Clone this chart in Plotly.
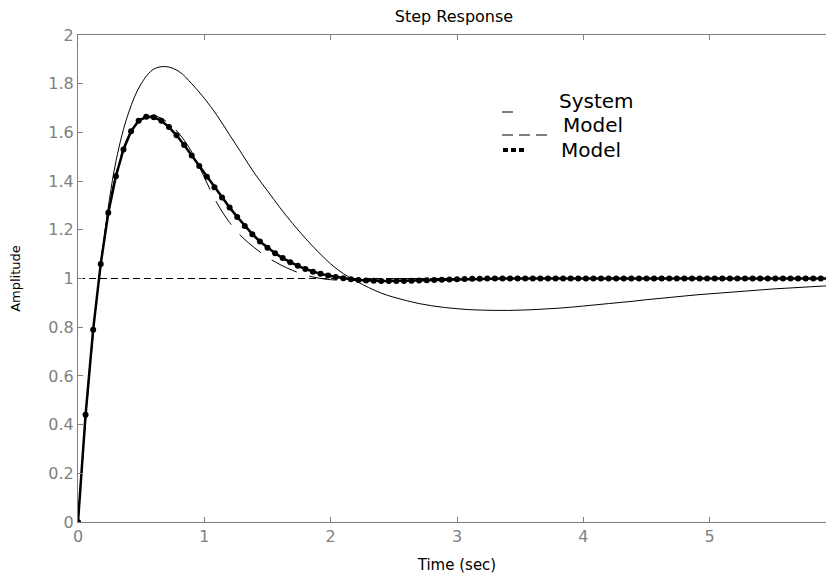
import plotly.graph_objects as go

# ---------------- data ----------------
t_sys = [0.0, 0.1, 0.2, 0.3, 0.4, 0.5, 0.6, 0.7, 0.8, 0.9,
         1.0, 1.1, 1.2, 1.3, 1.4, 1.5, 1.6, 1.7, 1.8, 1.9,
         2.0, 2.1, 2.2, 2.3, 2.4, 2.5, 2.6, 2.7, 2.8, 2.9,
         3.0, 3.1, 3.2, 3.3, 3.4, 3.5, 3.6, 3.7, 3.8, 3.9,
         4.0, 4.1, 4.2, 4.3, 4.4, 4.5, 4.6, 4.7, 4.8, 4.9,
         5.0, 5.1, 5.2, 5.3, 5.4, 5.5, 5.6, 5.7, 5.8, 5.9, 6.0]

system = [0.0, 0.68, 1.14, 1.48, 1.68, 1.80, 1.86, 1.87, 1.85, 1.80,
          1.74, 1.67, 1.59, 1.51, 1.43, 1.36, 1.29, 1.225, 1.165, 1.11,
          1.06, 1.02, 0.99, 0.963, 0.94, 0.923, 0.909, 0.897, 0.888, 0.881,
          0.876, 0.872, 0.87, 0.869, 0.869, 0.87, 0.872, 0.875, 0.878, 0.882,
          0.887, 0.892, 0.897, 0.902, 0.907, 0.913, 0.918, 0.923, 0.928, 0.933,
          0.937, 0.941, 0.945, 0.949, 0.953, 0.957, 0.960, 0.963, 0.966, 0.969, 0.972]

model_dashed = [0.0, 0.66, 1.14, 1.43, 1.585, 1.65, 1.668, 1.645, 1.595, 1.52,
                1.415, 1.31, 1.23, 1.17, 1.125, 1.087, 1.057, 1.033, 1.014, 1.002,
                0.995, 0.993, 0.994, 0.996, 0.998, 0.999, 1.0, 1.0, 1.0, 1.0,
                1.0, 1.0, 1.0, 1.0, 1.0, 1.0, 1.0, 1.0, 1.0, 1.0,
                1.0, 1.0, 1.0, 1.0, 1.0, 1.0, 1.0, 1.0, 1.0, 1.0,
                1.0, 1.0, 1.0, 1.0, 1.0, 1.0, 1.0, 1.0, 1.0, 1.0, 1.0]

t_dot = [0.00, 0.06, 0.12, 0.18, 0.24, 0.30, 0.36, 0.42, 0.48, 0.54,
         0.60, 0.66, 0.72, 0.78, 0.84, 0.90, 0.96, 1.02, 1.08, 1.14,
         1.20, 1.26, 1.32, 1.38, 1.44, 1.50, 1.56, 1.62, 1.68, 1.74,
         1.80, 1.86, 1.92, 1.98, 2.04, 2.10, 2.16, 2.22, 2.28, 2.34,
         2.40, 2.46, 2.52, 2.58, 2.64, 2.70, 2.76, 2.82, 2.88, 2.94,
         3.00, 3.06, 3.12, 3.18, 3.24, 3.30, 3.36, 3.42, 3.48, 3.54,
         3.60, 3.66, 3.72, 3.78, 3.84, 3.90, 3.96, 4.02, 4.08, 4.14,
         4.20, 4.26, 4.32, 4.38, 4.44, 4.50, 4.56, 4.62, 4.68, 4.74,
         4.80, 4.86, 4.92, 4.98, 5.04, 5.10, 5.16, 5.22, 5.28, 5.34,
         5.40, 5.46, 5.52, 5.58, 5.64, 5.70, 5.76, 5.82, 5.88, 5.94, 6.00]

model_dotted = [0.0, 0.44, 0.79, 1.06, 1.27, 1.42, 1.53, 1.605, 1.648, 1.664,
                1.662, 1.648, 1.622, 1.588, 1.548, 1.505, 1.462, 1.418, 1.375, 1.333,
                1.292, 1.253, 1.216, 1.182, 1.152, 1.126, 1.104, 1.084, 1.067, 1.052,
                1.039, 1.028, 1.019, 1.012, 1.006, 1.001, 0.997, 0.994, 0.992, 0.991,
                0.990, 0.990, 0.990, 0.990, 0.991, 0.992, 0.993, 0.994, 0.995, 0.996,
                0.997, 0.998, 0.999, 0.999, 1.0, 1.0, 1.0, 1.0, 1.0, 1.0,
                1.0, 1.0, 1.0, 1.0, 1.0, 1.0, 1.0, 1.0, 1.0, 1.0,
                1.0, 1.0, 1.0, 1.0, 1.0, 1.0, 1.0, 1.0, 1.0, 1.0,
                1.0, 1.0, 1.0, 1.0, 1.0, 1.0, 1.0, 1.0, 1.0, 1.0,
                1.0, 1.0, 1.0, 1.0, 1.0, 1.0, 1.0, 1.0, 1.0, 1.0, 1.0]

ref_t = [0, 6]
ref_y = [1, 1]

x_ticks = [0, 1, 2, 3, 4, 5, 6]
x_ticktext = ["0", "1", "2", "3", "4", "5", "6"]
y_ticks = [0, 0.2, 0.4, 0.6, 0.8, 1.0, 1.2, 1.4, 1.6, 1.8, 2.0]
y_ticktext = ["0", "0.2", "0.4", "0.6", "0.8", "1", "1.2", "1.4", "1.6", "1.8", "2"]

legend_labels = ["System", "Model", "Model"]

assert len(t_sys) == len(system) == len(model_dashed)
assert len(t_dot) == len(model_dotted)

# ---------------- figure ----------------
FONT = "DejaVu Sans"
GREY = "#808080"

fig = go.Figure()
fig.add_trace(go.Scatter(x=ref_t, y=ref_y, mode="lines",
                         line=dict(color="black", width=1, dash="7px,4px"),
                         hoverinfo="skip"))
fig.add_trace(go.Scatter(x=t_sys, y=system, mode="lines", name=legend_labels[0],
                         line=dict(color="black", width=1, shape="spline")))
fig.add_trace(go.Scatter(x=t_sys, y=model_dashed, mode="lines", name=legend_labels[1],
                         line=dict(color="black", width=1, dash="28px,13px", shape="spline")))
fig.add_trace(go.Scatter(x=t_dot, y=model_dotted, mode="lines+markers", name=legend_labels[2],
                         line=dict(color="black", width=2.5),
                         marker=dict(color="black", size=6, symbol="circle")))

# page body has an 8px margin; place the plot so it lands where the reference has it
OFF = 8
W, H = 834, 578
L, R, T, B = 70, 6, 27, 64
pw, ph = W - L - R, H - T - B

def px(x):
    return (x - OFF - L) / pw

def py(y):
    return (H - B - (y - OFF)) / ph

annotations = [
    dict(text=legend_labels[0], x=px(557), y=py(101), xanchor="left", yanchor="middle"),
    dict(text=legend_labels[1], x=px(561), y=py(125), xanchor="left", yanchor="middle"),
    dict(text=legend_labels[2], x=px(559), y=py(150), xanchor="left", yanchor="middle"),
]
for a in annotations:
    a.update(xref="paper", yref="paper", showarrow=False,
             font=dict(family=FONT, size=20, color="black"))

shapes = [
    dict(type="line", xref="paper", yref="paper", x0=px(502), x1=px(513), y0=py(112), y1=py(112),
         line=dict(color="black", width=1)),
    dict(type="line", xref="paper", yref="paper", x0=px(502), x1=px(552), y0=py(135), y1=py(135),
         line=dict(color="black", width=1, dash="11px,6px")),
    dict(type="line", xref="paper", yref="paper", x0=px(503), x1=px(525), y0=py(150), y1=py(150),
         line=dict(color="black", width=4, dash="5px,3px")),
]

fig.update_layout(
    width=W, height=H,
    margin=dict(l=L, r=R, t=T, b=B, pad=0, autoexpand=False),
    paper_bgcolor="white", plot_bgcolor="white",
    showlegend=False,
    title=dict(text="Step Response", x=px(454), xref="paper", xanchor="center",
               y=1 - 3 / H, yref="container", yanchor="top", pad=dict(t=0),
               font=dict(family=FONT, size=16, color="black")),
    annotations=annotations,
    shapes=shapes,
    xaxis=dict(range=[0, 6], tickvals=x_ticks, ticktext=x_ticktext,
               ticks="inside", ticklen=5, tickcolor=GREY, tickwidth=1,
               showline=True, linecolor=GREY, linewidth=1, mirror="ticks",
               showgrid=False, zeroline=False, automargin=False,
               tickfont=dict(family=FONT, size=16, color=GREY),
               title=dict(text="Time (sec)", standoff=14,
                          font=dict(family=FONT, size=15, color="black"))),
    yaxis=dict(range=[0, 2], tickvals=y_ticks, ticktext=y_ticktext,
               ticks="inside", ticklen=5, tickcolor=GREY, tickwidth=1,
               showline=True, linecolor=GREY, linewidth=1, mirror="ticks",
               showgrid=False, zeroline=False, automargin=False,
               tickfont=dict(family=FONT, size=16, color=GREY),
               title=dict(text="Amplitude", standoff=24,
                          font=dict(family=FONT, size=13, color="black"))),
)

fig.write_html("out.html")
